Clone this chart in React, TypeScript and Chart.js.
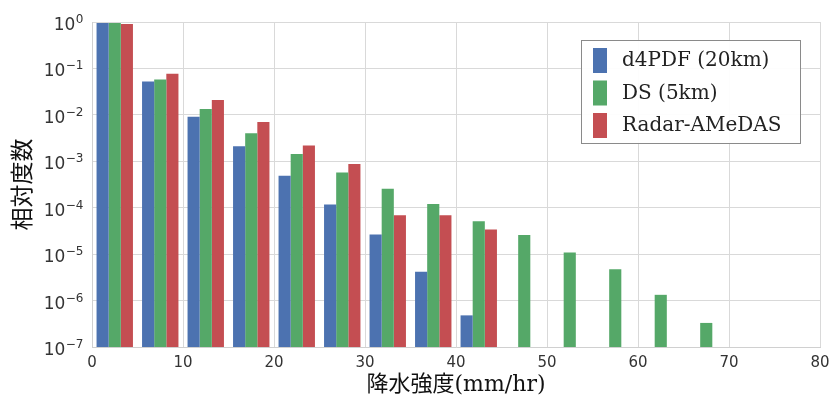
import React, { useEffect, useRef } from "react";
import { Chart, registerables } from "chart.js";

Chart.register(...registerables);

// Bin centres (mm/hr), bins of 5 mm/hr
const binCenters = [2.5, 7.5, 12.5, 17.5, 22.5, 27.5, 32.5, 37.5, 42.5, 47.5, 52.5, 57.5, 62.5, 67.5];

const seriesLabels = ["d4PDF (20km)", "DS (5km)", "Radar-AMeDAS"];
const seriesColors = ["#4C72B0", "#55A868", "#C44E52"];

const d4pdf = [0.95, 0.052, 0.0091, 0.0021, 0.00049, 0.000118, 2.65e-5, 4.2e-6, 4.8e-7, null, null, null, null, null];
const ds = [0.95, 0.058, 0.0133, 0.004, 0.00143, 0.00057, 0.000255, 0.00012, 5.1e-5, 2.6e-5, 1.09e-5, 4.7e-6, 1.33e-6, 3.3e-7];
const radar = [0.91, 0.077, 0.0208, 0.007, 0.0022, 0.00087, 6.9e-5, 6.9e-5, 3.4e-5, null, null, null, null, null];

const yExponents = [-7, -6, -5, -4, -3, -2, -1, 0];
const xTicks = [0, 10, 20, 30, 40, 50, 60, 70, 80];

const xTitle = "降水強度(mm/hr)";
const yTitle = "相対度数";

const legendPlugin = {
  id: "boxLegend",
  afterDraw(chart: any) {
    const ctx = chart.ctx as CanvasRenderingContext2D;
    const x0 = 581.5, y0 = 40.5, w = 219, h = 103;
    ctx.save();
    ctx.fillStyle = "rgba(255,255,255,0.95)";
    ctx.fillRect(x0, y0, w, h);
    ctx.strokeStyle = "#8a8a8a";
    ctx.lineWidth = 1;
    ctx.strokeRect(x0, y0, w, h);
    ctx.font = "20px 'DejaVu Serif'";
    ctx.textBaseline = "middle";
    chart.data.datasets.forEach((ds: any, i: number) => {
      const top = 48 + i * 32.5;
      ctx.fillStyle = ds.backgroundColor;
      ctx.fillRect(593, top, 14, 25);
      ctx.fillStyle = "#222";
      ctx.fillText(ds.label, 622, top + 13);
    });
    ctx.restore();
  },
};

// Draws the log-axis labels as "10" with a raised exponent
const powerLabelPlugin = {
  id: "powerLabels",
  afterDraw(chart: any) {
    const ctx = chart.ctx as CanvasRenderingContext2D;
    const scale = chart.scales.y;
    const right = chart.chartArea.left - 9;
    ctx.save();
    ctx.fillStyle = "#333";
    ctx.textBaseline = "alphabetic";
    ctx.textAlign = "left";
    scale.ticks.forEach((t: any) => {
      const y = scale.getPixelForValue(t.value);
      const e = Math.round(Math.log10(t.value));
      const base = "10";
      const exp = e < 0 ? "\u2212" + String(-e) : String(e);
      ctx.font = "17px 'DejaVu Sans'";
      const wb = ctx.measureText(base).width;
      ctx.font = "12px 'DejaVu Sans'";
      const we = ctx.measureText(exp).width;
      const x = right - wb - we;
      ctx.font = "17px 'DejaVu Sans'";
      ctx.fillText(base, x, y + 8);
      ctx.font = "12px 'DejaVu Sans'";
      ctx.fillText(exp, x + wb + 0.5, y + 1);
    });
    ctx.restore();
  },
};

export default function App() {
  const ref = useRef<HTMLCanvasElement | null>(null);

  useEffect(() => {
    if (!ref.current) return;
    const series = [d4pdf, ds, radar];
    const chart = new Chart(ref.current, {
      type: "bar",
      data: {
        datasets: series.map((vals, i) => ({
          label: seriesLabels[i],
          data: binCenters.map((x, j) => ({ x, y: vals[j] })),
          backgroundColor: seriesColors[i],
          borderWidth: 0,
          categoryPercentage: 0.8,
          barPercentage: 1.0,
        })),
      },
      options: {
        animation: false,
        responsive: false,
        devicePixelRatio: 1,
        layout: { padding: { left: 0, top: 22, right: 10, bottom: 0 } },
        plugins: {
          legend: { display: false },
          tooltip: { enabled: false },
        },
        scales: {
          x: {
            type: "linear",
            min: 0,
            max: 80,
            offset: false,
            afterBuildTicks: (scale: any) => {
              scale.ticks = xTicks.map((v) => ({ value: v }));
            },
            afterFit: (scale: any) => {
              scale.height = 49;
              scale.paddingLeft = 0;
              scale.paddingRight = 0;
            },
            grid: { color: "#d9d9d9", lineWidth: 1, drawTicks: false, offset: false },
            border: { color: "#d0d0d0" },
            ticks: {
              padding: 7,
              color: "#333",
              font: { family: "'DejaVu Sans'", size: 15 },
              maxRotation: 0,
            },
            title: {
              display: true,
              text: xTitle,
              color: "#111",
              font: { family: "'DejaVu Serif', 'Noto Sans CJK JP'", size: 22, lineHeight: 1 },
              padding: { top: 0, bottom: 0 },
            },
          },
          y: {
            type: "logarithmic",
            min: 1e-7,
            max: 1,
            afterBuildTicks: (scale: any) => {
              scale.ticks = yExponents.map((e) => ({ value: Math.pow(10, e) }));
            },
            afterFit: (scale: any) => {
              scale.width = 92;
              scale.paddingTop = 0;
              scale.paddingBottom = 0;
            },
            grid: { color: "#d9d9d9", lineWidth: 1, drawTicks: false },
            border: { color: "#d0d0d0" },
            ticks: { display: false },
            title: {
              display: true,
              text: yTitle,
              color: "#111",
              font: { family: "'Noto Sans CJK JP'", size: 23, lineHeight: 1 },
              padding: { top: 10, bottom: 0 },
            },
          },
        },
      },
      plugins: [legendPlugin, powerLabelPlugin],
    } as any);
    return () => chart.destroy();
  }, []);

  return (
    <div style={{ position: "absolute", left: 0, top: 0, width: 830, height: 396, background: "#fff" }}>
      <canvas ref={ref} width={830} height={396} style={{ width: 830, height: 396 }} />
    </div>
  );
}
